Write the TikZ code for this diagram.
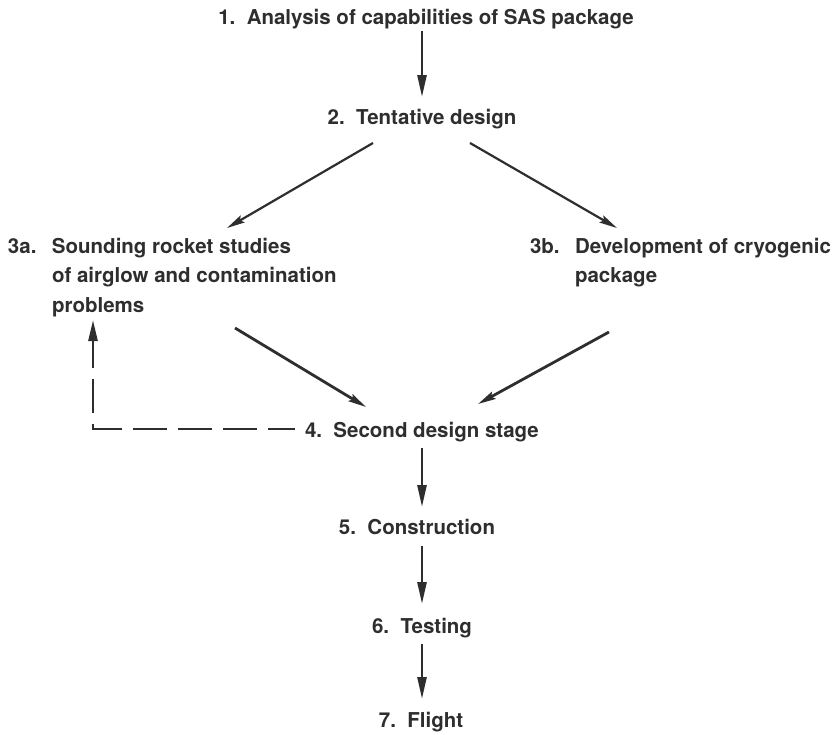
\documentclass[tikz,border=0pt]{standalone}
\usepackage{fontspec}
\setmainfont{TeX Gyre Heros}
\usetikzlibrary{arrows.meta,calc}
\begin{document}
\begin{tikzpicture}[x=1pt,y=-1pt,
  lbl/.style={inner sep=0pt, outer sep=0pt, text=black!82, font=\fontsize{20.5}{29.5}\selectfont\bfseries},
  arr/.style={draw=black!82, line width=2.6pt, -{Triangle[length=22pt,width=9pt]}},
  diag/.style={draw=black!82, line width=2.2pt, -{Stealth[length=18pt,width=8pt,inset=3pt]}},
  fb/.style={draw=black!82, line width=2.6pt, dash pattern=on 34pt off 11pt, dash phase=7pt, -{Triangle[length=21pt,width=9pt]}}]
\useasboundingbox (0,0) rectangle (838,734);

\node[lbl,anchor=base] (n1) at (426,24) {1.~~Analysis of capabilities of SAS package};
\node[lbl,anchor=base] (n2) at (422,124) {2.~~Tentative design};
\node[lbl,anchor=base west] (n3a) at (8,253) {\begin{tabular}[t]{@{}l@{}l@{}}\makebox[44pt][l]{3a.} & Sounding rocket studies\\ & of airglow and contamination\\ & problems\end{tabular}};
\node[lbl,anchor=base west] (n3b) at (530,253) {\begin{tabular}[t]{@{}l@{}l@{}}\makebox[45pt][l]{3b.} & Development of cryogenic\\ & package\end{tabular}};
\node[lbl,anchor=base west] (n4) at (305,437) {4.~~Second design stage};
\node[lbl,anchor=base] (n5) at (417,534) {5.~~Construction};
\node[lbl,anchor=base] (n6) at (422,633) {6.~~Testing};
\node[lbl,anchor=base] (n7) at (421,727) {7.~~Flight};

\draw[arr] ($(n1.base)+(-4,7)$) -- ($(n2.base)+(0,-27)$);
\draw[diag] ($(n2.base)+(-49,19)$) -- ($(n3a.base west)+(219,-25)$);
\draw[diag] ($(n2.base)+(48,19)$) -- ($(n3b.base west)+(87,-25)$);
\draw[diag,line width=2.8pt] ($(n3a.base west)+(227,75)$) -- ($(n4.base west)+(61,-30)$);
\draw[diag,line width=2.8pt] ($(n3b.base west)+(79,79)$) -- ($(n4.base west)+(173,-33)$);
\draw[fb] ($(n4.base west)+(-10,-8)$) -| ($(n3a.base west)+(85,67)$);
\draw[arr] ($(n4.base west)+(117,11)$) -- ($(n5.base)+(5,-27)$);
\draw[arr] ($(n5.base)+(5,12)$) -- ($(n6.base)+(0,-29)$);
\draw[arr] ($(n6.base)+(0,11)$) -- ($(n7.base)+(1,-28)$);
\end{tikzpicture}
\end{document}
